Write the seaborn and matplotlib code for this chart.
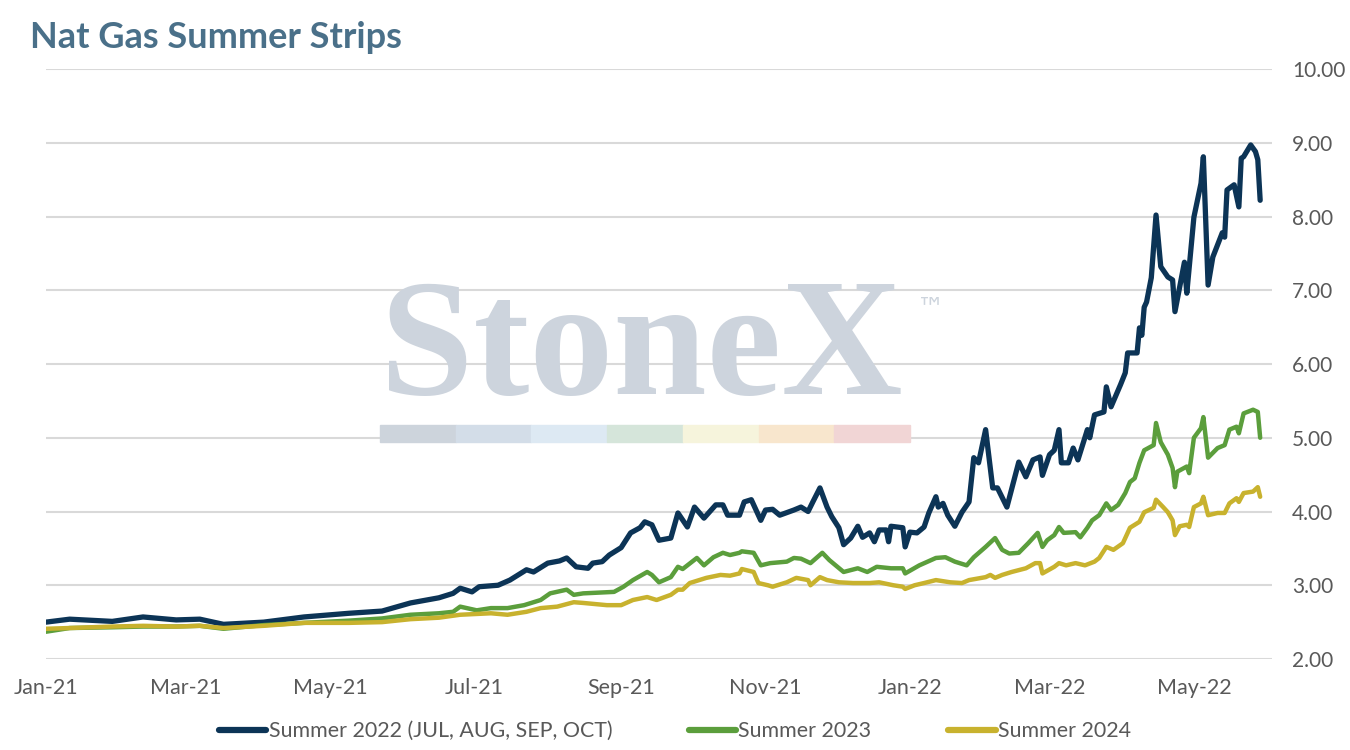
import pandas as pd
import matplotlib
matplotlib.use("Agg")
import matplotlib.pyplot as plt
import matplotlib.dates as mdates
from matplotlib.patches import Rectangle
from matplotlib.lines import Line2D
import seaborn as sns

# Summer 2022 strip (JUL-OCT)
s22_dates = [
    "2021-01-01", "2021-01-11", "2021-01-29", "2021-02-11", "2021-02-25", "2021-03-07",
    "2021-03-17", "2021-04-03", "2021-04-20", "2021-05-09", "2021-05-23", "2021-06-04",
    "2021-06-16", "2021-06-22", "2021-06-25", "2021-06-30", "2021-07-03", "2021-07-11",
    "2021-07-16", "2021-07-23", "2021-07-26", "2021-08-01", "2021-08-06", "2021-08-09",
    "2021-08-13", "2021-08-18", "2021-08-20", "2021-08-24", "2021-08-27", "2021-09-01",
    "2021-09-05", "2021-09-09", "2021-09-11", "2021-09-14", "2021-09-17", "2021-09-22",
    "2021-09-25", "2021-09-29", "2021-10-02", "2021-10-06", "2021-10-11", "2021-10-14",
    "2021-10-16", "2021-10-21", "2021-10-23", "2021-10-26", "2021-10-30", "2021-11-01",
    "2021-11-04", "2021-11-07", "2021-11-13", "2021-11-16", "2021-11-19", "2021-11-21",
    "2021-11-24", "2021-11-27", "2021-11-29", "2021-12-02", "2021-12-04", "2021-12-07",
    "2021-12-10", "2021-12-12", "2021-12-15", "2021-12-17", "2021-12-19", "2021-12-22",
    "2021-12-23", "2021-12-24", "2021-12-29", "2021-12-30", "2022-01-01", "2022-01-04",
    "2022-01-07", "2022-01-09", "2022-01-12", "2022-01-13", "2022-01-15", "2022-01-17",
    "2022-01-20", "2022-01-23", "2022-01-26", "2022-01-28", "2022-01-30", "2022-02-02",
    "2022-02-05", "2022-02-07", "2022-02-11", "2022-02-16", "2022-02-19", "2022-02-22",
    "2022-02-25", "2022-02-26", "2022-03-01", "2022-03-03", "2022-03-05", "2022-03-06",
    "2022-03-09", "2022-03-11", "2022-03-13", "2022-03-17", "2022-03-18", "2022-03-20",
    "2022-03-24", "2022-03-25", "2022-03-27", "2022-03-31", "2022-04-02", "2022-04-03",
    "2022-04-07", "2022-04-08", "2022-04-09", "2022-04-10", "2022-04-11", "2022-04-13",
    "2022-04-15", "2022-04-17", "2022-04-20", "2022-04-22", "2022-04-23", "2022-04-27",
    "2022-04-28", "2022-05-01", "2022-05-04", "2022-05-05", "2022-05-07", "2022-05-09",
    "2022-05-13", "2022-05-14", "2022-05-15", "2022-05-18", "2022-05-20", "2022-05-21",
    "2022-05-22", "2022-05-25", "2022-05-27", "2022-05-28", "2022-05-29",
]
s22_values = [
    2.50, 2.54, 2.51, 2.57, 2.53, 2.54,
    2.47, 2.50, 2.57, 2.62, 2.65, 2.76,
    2.83, 2.89, 2.96, 2.91, 2.98, 3.00,
    3.07, 3.21, 3.18, 3.30, 3.33, 3.37,
    3.25, 3.23, 3.30, 3.32, 3.41, 3.51,
    3.71, 3.78, 3.86, 3.82, 3.61, 3.64,
    3.98, 3.79, 4.06, 3.91, 4.09, 4.09,
    3.95, 3.95, 4.13, 4.16, 3.88, 4.02,
    4.03, 3.95, 4.02, 4.06, 4.00, 4.13,
    4.32, 4.06, 3.93, 3.78, 3.55, 3.64,
    3.80, 3.65, 3.71, 3.59, 3.75, 3.75,
    3.59, 3.80, 3.78, 3.52, 3.72, 3.71,
    3.79, 3.98, 4.20, 4.06, 4.11, 3.95,
    3.80, 3.99, 4.13, 4.73, 4.66, 5.11,
    4.32, 4.32, 4.06, 4.67, 4.47, 4.70,
    4.74, 4.49, 4.77, 4.83, 5.11, 4.66,
    4.66, 4.86, 4.70, 5.11, 5.00, 5.31,
    5.35, 5.69, 5.42, 5.72, 5.88, 6.15,
    6.15, 6.49, 6.39, 6.77, 6.84, 7.17,
    8.02, 7.32, 7.18, 7.14, 6.71, 7.38,
    6.96, 7.99, 8.45, 8.81, 7.07, 7.45,
    7.78, 7.72, 8.36, 8.43, 8.13, 8.79,
    8.81, 8.97, 8.88, 8.77, 8.22,
]

# Summer 2023 strip
s23_dates = [
    "2021-01-01", "2021-01-11", "2021-01-29", "2021-02-11", "2021-02-25", "2021-03-07",
    "2021-03-17", "2021-04-03", "2021-04-20", "2021-05-09", "2021-05-23", "2021-06-04",
    "2021-06-16", "2021-06-22", "2021-06-25", "2021-07-02", "2021-07-08", "2021-07-15",
    "2021-07-22", "2021-07-29", "2021-08-02", "2021-08-09", "2021-08-12", "2021-08-16",
    "2021-08-29", "2021-09-02", "2021-09-06", "2021-09-12", "2021-09-14", "2021-09-17",
    "2021-09-22", "2021-09-25", "2021-09-27", "2021-10-03", "2021-10-06", "2021-10-10",
    "2021-10-14", "2021-10-17", "2021-10-21", "2021-10-22", "2021-10-27", "2021-10-30",
    "2021-11-03", "2021-11-10", "2021-11-13", "2021-11-16", "2021-11-20", "2021-11-25",
    "2021-11-28", "2021-12-04", "2021-12-10", "2021-12-14", "2021-12-18", "2021-12-24",
    "2021-12-29", "2021-12-30", "2022-01-05", "2022-01-12", "2022-01-16", "2022-01-20",
    "2022-01-25", "2022-01-28", "2022-02-02", "2022-02-06", "2022-02-09", "2022-02-12",
    "2022-02-16", "2022-02-20", "2022-02-24", "2022-02-26", "2022-02-28", "2022-03-03",
    "2022-03-05", "2022-03-07", "2022-03-12", "2022-03-14", "2022-03-17", "2022-03-19",
    "2022-03-22", "2022-03-25", "2022-03-27", "2022-03-30", "2022-04-02", "2022-04-04",
    "2022-04-06", "2022-04-08", "2022-04-10", "2022-04-14", "2022-04-15", "2022-04-17",
    "2022-04-20", "2022-04-22", "2022-04-23", "2022-04-24", "2022-04-28", "2022-04-29",
    "2022-05-01", "2022-05-04", "2022-05-05", "2022-05-07", "2022-05-11", "2022-05-14",
    "2022-05-16", "2022-05-19", "2022-05-20", "2022-05-22", "2022-05-26", "2022-05-28",
    "2022-05-29",
]
s23_values = [
    2.37, 2.42, 2.43, 2.44, 2.44, 2.45,
    2.41, 2.46, 2.49, 2.52, 2.55, 2.60,
    2.62, 2.64, 2.71, 2.66, 2.69, 2.69,
    2.73, 2.80, 2.89, 2.94, 2.87, 2.89,
    2.91, 2.98, 3.07, 3.18, 3.14, 3.04,
    3.11, 3.25, 3.22, 3.37, 3.27, 3.38,
    3.44, 3.41, 3.44, 3.46, 3.44, 3.27,
    3.30, 3.32, 3.37, 3.36, 3.30, 3.44,
    3.34, 3.18, 3.23, 3.18, 3.25, 3.23,
    3.23, 3.16, 3.27, 3.37, 3.38, 3.32,
    3.27, 3.38, 3.52, 3.64, 3.48, 3.43,
    3.44, 3.57, 3.71, 3.52, 3.61, 3.68,
    3.79, 3.71, 3.72, 3.65, 3.78, 3.88,
    3.95, 4.11, 4.02, 4.09, 4.25, 4.40,
    4.45, 4.66, 4.83, 4.90, 5.20, 4.94,
    4.77, 4.59, 4.33, 4.54, 4.61, 4.52,
    5.00, 5.13, 5.28, 4.73, 4.86, 4.90,
    5.11, 5.15, 5.06, 5.33, 5.38, 5.35,
    5.00,
]

# Summer 2024 strip
s24_dates = [
    "2021-01-01", "2021-01-11", "2021-01-29", "2021-02-11", "2021-02-25", "2021-03-07",
    "2021-03-17", "2021-04-03", "2021-04-20", "2021-05-09", "2021-05-23", "2021-06-04",
    "2021-06-16", "2021-06-25", "2021-07-08", "2021-07-15", "2021-07-23", "2021-07-29",
    "2021-08-05", "2021-08-12", "2021-08-16", "2021-08-26", "2021-09-01", "2021-09-06",
    "2021-09-12", "2021-09-16", "2021-09-22", "2021-09-25", "2021-09-27", "2021-09-30",
    "2021-10-04", "2021-10-07", "2021-10-13", "2021-10-17", "2021-10-21", "2021-10-22",
    "2021-10-27", "2021-10-29", "2021-11-02", "2021-11-04", "2021-11-10", "2021-11-14",
    "2021-11-19", "2021-11-20", "2021-11-24", "2021-11-27", "2021-12-02", "2021-12-08",
    "2021-12-15", "2021-12-19", "2021-12-25", "2021-12-29", "2021-12-30", "2022-01-03",
    "2022-01-07", "2022-01-12", "2022-01-18", "2022-01-23", "2022-01-26", "2022-02-02",
    "2022-02-04", "2022-02-06", "2022-02-09", "2022-02-13", "2022-02-19", "2022-02-23",
    "2022-02-25", "2022-02-26", "2022-03-03", "2022-03-05", "2022-03-08", "2022-03-12",
    "2022-03-16", "2022-03-20", "2022-03-22", "2022-03-25", "2022-03-28", "2022-04-01",
    "2022-04-04", "2022-04-08", "2022-04-10", "2022-04-14", "2022-04-15", "2022-04-18",
    "2022-04-20", "2022-04-22", "2022-04-23", "2022-04-25", "2022-04-28", "2022-04-29",
    "2022-05-01", "2022-05-04", "2022-05-05", "2022-05-07", "2022-05-11", "2022-05-14",
    "2022-05-16", "2022-05-19", "2022-05-20", "2022-05-22", "2022-05-26", "2022-05-28",
    "2022-05-29",
]
s24_values = [
    2.41, 2.42, 2.44, 2.45, 2.44, 2.45,
    2.42, 2.45, 2.49, 2.49, 2.50, 2.54,
    2.56, 2.60, 2.62, 2.60, 2.64, 2.69,
    2.71, 2.77, 2.76, 2.73, 2.73, 2.80,
    2.84, 2.80, 2.87, 2.94, 2.94, 3.03,
    3.07, 3.10, 3.14, 3.13, 3.16, 3.22,
    3.18, 3.03, 3.00, 2.98, 3.04, 3.10,
    3.07, 3.00, 3.11, 3.07, 3.04, 3.03,
    3.03, 3.04, 3.00, 2.98, 2.95, 3.00,
    3.03, 3.07, 3.04, 3.03, 3.07, 3.11,
    3.14, 3.10, 3.14, 3.18, 3.23, 3.30,
    3.30, 3.16, 3.25, 3.30, 3.27, 3.30,
    3.27, 3.32, 3.37, 3.52, 3.48, 3.57,
    3.78, 3.86, 3.99, 4.05, 4.16, 4.06,
    3.99, 3.88, 3.68, 3.80, 3.82, 3.79,
    4.06, 4.11, 4.20, 3.95, 3.98, 3.98,
    4.11, 4.18, 4.13, 4.25, 4.27, 4.33,
    4.20,
]

series_labels = ["Summer 2022 (JUL, AUG, SEP, OCT)", "Summer 2023", "Summer 2024"]
series_colors = ["#0c3456", "#5b9e3c", "#c8b22e"]
series_widths = [3.8, 3.2, 3.2]
y_ticks = [2, 3, 4, 5, 6, 7, 8, 9, 10]

frames = []
for label, d, v in zip(series_labels,
                       [s22_dates, s23_dates, s24_dates],
                       [s22_values, s23_values, s24_values]):
    frames.append(pd.DataFrame({"date": pd.to_datetime(d), "price": v, "series": label}))
df = pd.concat(frames, ignore_index=True)

sns.set_style("white")
plt.rcParams["font.family"] = ["Lato", "DejaVu Sans"]

fig = plt.figure(figsize=(13.5, 7.5), dpi=100)
ax = fig.add_axes([46 / 1350, 91 / 750, 1226 / 1350, 590 / 750])

# watermark
fig.text(380 / 1350, 1 - 394 / 750, "StoneX", fontsize=121, family="Liberation Serif",
         fontweight="bold", color="#cdd4dd", va="baseline", zorder=0)
fig.text(917 / 1350, 1 - 316 / 750, "™", fontsize=20, family="DejaVu Sans",
         color="#cdd4dd", va="baseline", zorder=0)
band_colors = ["#cdd4dc", "#d3dde8", "#dde9f3", "#d5e5da", "#f6f4dc", "#f8e6cd", "#f1d5d5"]
for i, c in enumerate(band_colors):
    fig.patches.append(Rectangle((0.2815 + i * 0.0561, 0.411), 0.0561, 0.023,
                                 transform=fig.transFigure, color=c, zorder=0))

for (label, grp), color, lw in zip(df.groupby("series", sort=False), series_colors, series_widths):
    sns.lineplot(data=grp, x="date", y="price", color=color, linewidth=lw, ax=ax,
                 legend=False, zorder=3)

ax.set_xlim(pd.Timestamp("2021-01-01"), pd.Timestamp("2022-06-03"))
ax.set_ylim(2, 10)
ax.set_yticks(y_ticks)
ax.yaxis.set_major_formatter(plt.FuncFormatter(lambda v, p: f"{v:.2f}"))
ax.yaxis.tick_right()
ax.xaxis.set_major_locator(mdates.MonthLocator(bymonth=[1, 3, 5, 7, 9, 11]))
ax.xaxis.set_major_formatter(mdates.DateFormatter("%b-%y"))
ax.tick_params(axis="y", length=0, pad=14.4, labelsize=15, labelcolor="#595959")
ax.tick_params(axis="x", length=0, pad=14, labelsize=15.5, labelcolor="#595959")
ax.set_xlabel("")
ax.set_ylabel("")
ax.grid(axis="y", color="#d9d9d9", linewidth=1.5)
ax.grid(axis="x", visible=False)
ax.set_axisbelow(True)
ax.patch.set_alpha(0)
for s in ax.spines.values():
    s.set_visible(False)

fig.text(30 / 1350, 1 - 48 / 750, "Nat Gas Summer Strips", fontsize=26, fontweight="bold",
         color="#4a7089", va="baseline")

handles = [Line2D([0], [0], color=c, linewidth=4.5) for c in series_colors]
fig.legend(handles, series_labels, loc="center", bbox_to_anchor=(0.5, 1 - 731 / 750),
           ncol=3, frameon=False, fontsize=15.4, handlelength=2.2, handletextpad=0.1,
           columnspacing=3.6, labelcolor="#595959")

fig.savefig("out.png", dpi=100)
